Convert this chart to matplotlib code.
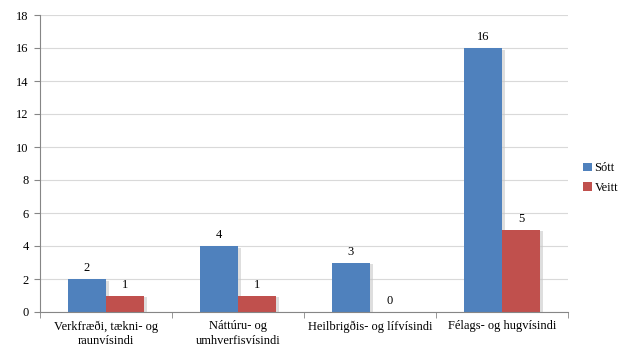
import matplotlib
matplotlib.use("Agg")
import matplotlib.pyplot as plt
import numpy as np
from matplotlib.patches import Rectangle

categories = ["Verkfræði, tækni- og\nraunvísindi", "Náttúru- og\numhverfisvísindi",
              "Heilbrigðis- og lífvísindi", "Félags- og hugvísindi"]
sott = [2, 4, 3, 16]
veitt = [1, 1, 0, 5]
yticks = [0, 2, 4, 6, 8, 10, 12, 14, 16, 18]

plt.rcParams['font.family'] = ['Liberation Serif', 'DejaVu Serif']
fig = plt.figure(figsize=(6.23, 3.49), dpi=100)
ax = fig.add_axes([40/623, 37/349, 528/623, 297/349])

x = np.arange(len(categories))
w = 0.29
blue = "#4F81BD"
red = "#C0504D"
# subtle shadows
for xi, v in zip(x, sott):
    if v > 0:
        ax.add_patch(Rectangle((xi - w + 0.02, 0), w, v - 0.1, color="#c8c8c8", alpha=0.6, zorder=1.5, lw=0))
for xi, v in zip(x, veitt):
    if v > 0:
        ax.add_patch(Rectangle((xi + 0.02, 0), w, v - 0.1, color="#c8c8c8", alpha=0.6, zorder=1.5, lw=0))
b1 = ax.bar(x - w/2, sott, w, color=blue, label="Sótt", zorder=2)
b2 = ax.bar(x + w/2, veitt, w, color=red, label="Veitt", zorder=2)
for xi, v in zip(x, sott):
    ax.text(xi - w/2, v + 0.3, str(v), ha="center", va="bottom", fontsize=9)
for xi, v in zip(x, veitt):
    ax.text(xi + w/2, v + 0.3, str(v), ha="center", va="bottom", fontsize=9)

ax.set_xlim(-0.5, 3.5)
ax.set_ylim(0, 18)
ax.set_yticks(yticks)
ax.set_yticklabels([str(t) for t in yticks], fontsize=9)
ax.set_xticks(x)
ax.set_xticklabels(categories, fontsize=9, linespacing=1.3)
ax.set_xticks([-0.5, 0.5, 1.5, 2.5, 3.5], minor=True)
ax.tick_params(axis="x", which="major", length=0, pad=6)
ax.tick_params(axis="x", which="minor", length=4, color="#868686")
ax.tick_params(axis="y", length=4, color="#868686", pad=4)
ax.grid(axis="y", color="#D9D9D9", lw=0.8, zorder=0)
ax.set_axisbelow(True)
for s in ["top", "right"]:
    ax.spines[s].set_visible(False)
for s in ["left", "bottom"]:
    ax.spines[s].set_color("#868686")

leg = fig.legend(handles=[b1, b2], labels=["Sótt", "Veitt"], loc="center left",
                 bbox_to_anchor=(572/623, 1 - 178/349), frameon=False, fontsize=9,
                 handlelength=0.7, handleheight=0.7, handletextpad=0.2, labelspacing=0.6)
fig.savefig("out.png", dpi=100)
